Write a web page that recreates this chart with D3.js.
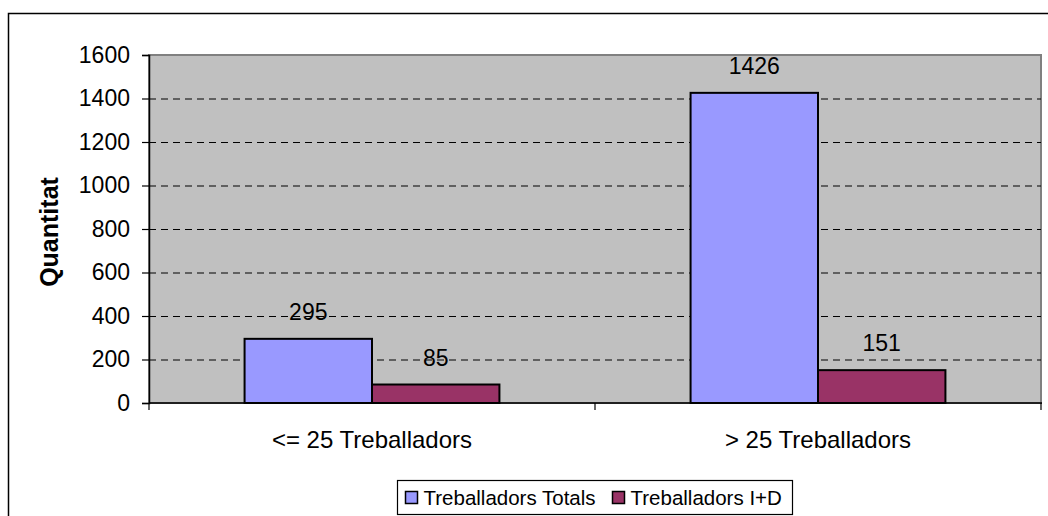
<!DOCTYPE html>
<html>
<head>
<meta charset="utf-8">
<script src="https://cdn.jsdelivr.net/npm/d3@7"></script>
<style>
  body { margin: 0; background: #fff; }
  text { font-family: Arial, "Liberation Sans", sans-serif; }
</style>
</head>
<body>
<div id="chart"></div>
<script>
// Data //
const categories = ["<= 25 Treballadors", "> 25 Treballadors"];
const seriesNames = ["Treballadors Totals", "Treballadors I+D"];
const totals = [295, 1426];
const recerca = [85, 151];
const yTicks = [0, 200, 400, 600, 800, 1000, 1200, 1400, 1600];

const colors = ["#9999FF", "#993366"];

/* Canvas */
const W = 1048, H = 516;
const plot = { left: 149, right: 1041, top: 55, bottom: 403 };

const svg = d3.select("#chart")
    .append("svg")
    .attr("width", W)
    .attr("height", H);

// Outer chart border
svg.append("rect")
    .attr("x", 8.5).attr("y", 13.5)
    .attr("width", W + 10).attr("height", H + 10)
    .attr("fill", "#fff")
    .attr("stroke", "#000")
    .attr("stroke-width", 1.5);

/* Scales */
const xScale = d3.scaleBand()
    .domain(categories)
    .range([plot.left, plot.right]);

const yScale = d3.scaleLinear()
    .domain([0, 1600])
    .range([plot.bottom, plot.top]);

// Excel gap width 150% -> bar width = band / (2 + 1.5)
const barW = xScale.bandwidth() / 3.5;

// Plot area background
svg.append("rect")
    .attr("x", plot.left).attr("y", plot.top)
    .attr("width", plot.right - plot.left)
    .attr("height", plot.bottom - plot.top)
    .attr("fill", "#C0C0C0")
    .attr("stroke", "#808080")
    .attr("stroke-width", 2);

// Grid lines
svg.append("g")
    .selectAll("line")
    .data(yTicks.filter(d => d > 0 && d < 1600))
    .join("line")
    .attr("x1", plot.left).attr("x2", plot.right)
    .attr("y1", d => yScale(d) + 0.5).attr("y2", d => yScale(d) + 0.5)
    .attr("stroke", "#000")
    .attr("stroke-width", 1)
    .attr("stroke-dasharray", "7,5");

/* Y axis */
const yAxis = d3.axisLeft(yScale)
    .tickValues(yTicks)
    .tickSize(7)
    .tickPadding(12)
    .tickFormat(d3.format("d"));

const gy = svg.append("g")
    .attr("transform", `translate(${plot.left},0)`)
    .call(yAxis);
gy.select(".domain").attr("stroke", "#000").attr("stroke-width", 1.5);
gy.selectAll(".tick line").attr("stroke", "#000").attr("stroke-width", 1.2);
gy.selectAll("text")
    .attr("font-size", "23px")
    .attr("fill", "#000");

/* X axis */
const gx = svg.append("g")
    .attr("transform", `translate(0,${plot.bottom})`);
gx.append("line")
    .attr("x1", plot.left).attr("x2", plot.right + 1)
    .attr("stroke", "#000").attr("stroke-width", 1.5);
gx.selectAll(".xtick")
    .data([plot.left, xScale(categories[1]), plot.right])
    .join("line")
    .attr("class", "xtick")
    .attr("x1", d => d).attr("x2", d => d)
    .attr("y1", 0).attr("y2", 7)
    .attr("stroke", "#000").attr("stroke-width", 1.2);
gx.selectAll(".xlabel")
    .data(categories)
    .join("text")
    .attr("class", "xlabel")
    .attr("x", d => xScale(d) + xScale.bandwidth() / 2)
    .attr("y", 45)
    .attr("text-anchor", "middle")
    .attr("font-size", "24px")
    .text(d => d);

// Axis title
svg.append("text")
    .attr("transform", "translate(58,232) rotate(-90)")
    .attr("text-anchor", "middle")
    .attr("font-size", "25px")
    .attr("font-weight", "bold")
    .text("Quantitat");

/* Bars */
const series = [totals, recerca];
series.forEach((vals, s) => {
    const g = svg.append("g");
    const xPos = (d, i) => xScale(categories[i]) + xScale.bandwidth() / 2 + (s - 1) * barW;

    g.selectAll("rect")
        .data(vals)
        .join("rect")
        .attr("x", xPos)
        .attr("y", d => yScale(d))
        .attr("width", barW)
        .attr("height", d => yScale(0) - yScale(d))
        .attr("fill", colors[s])
        .attr("stroke", "#000")
        .attr("stroke-width", 2);

    g.selectAll("text")
        .data(vals)
        .join("text")
        .attr("x", (d, i) => xPos(d, i) + barW / 2)
        .attr("y", d => yScale(d) - 19)
        .attr("text-anchor", "middle")
        .attr("font-size", "23px")
        .text(d => d);
});

/* Legend */
const legend = svg.append("g").attr("transform", "translate(397.5,480.5)");
legend.append("rect")
    .attr("width", 395).attr("height", 34)
    .attr("fill", "#fff")
    .attr("stroke", "#000")
    .attr("stroke-width", 1.2);

const legendX = [8, 215];
seriesNames.forEach((name, i) => {
    legend.append("rect")
        .attr("x", legendX[i]).attr("y", 11)
        .attr("width", 12).attr("height", 12)
        .attr("fill", colors[i])
        .attr("stroke", "#000")
        .attr("stroke-width", 1.5);
    legend.append("text")
        .attr("x", legendX[i] + 18)
        .attr("y", 24)
        .attr("font-size", "20.5px")
        .text(name);
});
</script>
</body>
</html>
